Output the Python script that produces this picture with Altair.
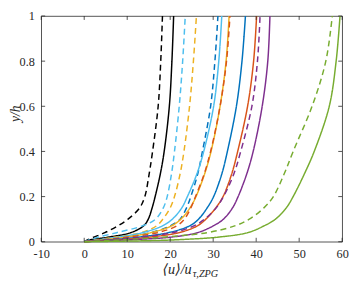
import altair as alt
import pandas as pd

# common y/h levels at which each profile was read
y_levels = [0, 0.005, 0.01, 0.02, 0.04, 0.07, 0.1, 0.15, 0.2, 0.3, 0.4, 0.6, 0.8, 1.0]

# <u>/u_tau,ZPG values of each profile at those levels
x_black_dash  = [0, 0.5, 1.0, 2.2, 4.8, 7.8, 10.2, 12.9, 14.1, 15.1, 15.9, 17.2, 17.8, 18.2]
x_black_solid = [0, 0.6, 1.8, 5.5, 10.8, 13.8, 14.9, 15.8, 16.5, 17.7, 18.6, 19.8, 20.4, 20.8]
x_cyan_dash   = [0, 0.7, 1.5, 3.2, 7.5, 13.5, 16.6, 18.4, 19.3, 20.3, 21.0, 22.1, 22.9, 23.5]
x_orange_dash = [0, 1.5, 3.0, 7.0, 13.2, 16.8, 18.3, 20.0, 21.0, 22.3, 23.2, 24.5, 25.4, 26.1]
x_blue_dash   = [0, 2.0, 4.0, 9.0, 15.5, 20.0, 22.3, 23.8, 24.8, 26.4, 27.5, 29.4, 30.4, 31.1]
x_cyan_solid  = [0, 2.0, 4.0, 7.8, 13.5, 18.2, 20.5, 22.7, 24.0, 26.2, 27.8, 30.1, 31.3, 32.0]
x_orange_solid= [0, 2.5, 5.0, 9.5, 15.5, 20.3, 22.5, 24.6, 26.0, 28.0, 29.5, 31.6, 33.0, 33.7]
x_red_dash    = [0, 2.5, 5.0, 10.0, 17.0, 21.5, 23.3, 24.8, 25.9, 27.9, 29.4, 31.6, 33.1, 33.9]
x_blue_solid  = [0, 3.5, 7.0, 12.5, 19.5, 24.5, 26.6, 28.6, 30.1, 32.0, 33.3, 35.4, 36.7, 37.5]
x_red_solid   = [0, 4.5, 9.0, 15.0, 22.0, 26.3, 28.3, 30.6, 32.3, 34.3, 35.7, 38.0, 39.4, 40.1]
x_purple_dash = [0, 3.5, 7.0, 13.0, 20.5, 25.5, 28.0, 30.7, 32.4, 34.8, 36.4, 39.0, 40.3, 40.9]
x_purple_solid= [0, 6.0, 12.0, 20.0, 26.3, 30.0, 32.4, 34.5, 35.8, 37.8, 39.3, 41.4, 42.7, 43.2]
x_green_dash  = [0, 5.0, 10.0, 18.0, 28.5, 35.0, 38.4, 41.8, 44.0, 46.5, 48.6, 53.0, 56.2, 57.7]
x_green_solid = [0, 16.0, 23.0, 31.0, 38.0, 41.8, 44.5, 47.0, 48.6, 51.2, 53.5, 57.0, 58.6, 59.5]

series_names = ["k--", "k-", "c--", "o--", "b--", "c-", "o-", "r--", "b-", "r-", "p--", "p-", "g--", "g-"]
series_x = [x_black_dash, x_black_solid, x_cyan_dash, x_orange_dash, x_blue_dash, x_cyan_solid,
            x_orange_solid, x_red_dash, x_blue_solid, x_red_solid, x_purple_dash, x_purple_solid,
            x_green_dash, x_green_solid]
series_colors = ["#000000", "#000000", "#4DBEEE", "#EDB120", "#0072BD", "#4DBEEE", "#EDB120",
                 "#D95319", "#0072BD", "#D95319", "#7E2F8E", "#7E2F8E", "#77AC30", "#77AC30"]
series_style = ["dashed", "solid", "dashed", "dashed", "dashed", "solid", "solid",
                "dashed", "solid", "solid", "dashed", "solid", "dashed", "solid"]

x_ticks = [-10, 0, 10, 20, 30, 40, 50, 60]
y_ticks = [0, 0.2, 0.4, 0.6, 0.8, 1]
x_title_main = "⟨u⟩/u"
x_title_sub = "τ,ZPG"
y_title = "y/h"

W, H = 308, 231
FONT = "Times New Roman, Liberation Serif, DejaVu Serif, serif"
AX = "#262626"

rows = []
for name, xv_list, sty in zip(series_names, series_x, series_style):
    for i, (yv, xv) in enumerate(zip(y_levels, xv_list)):
        rows.append({"series": name, "x": xv, "y": yv, "idx": i, "style": sty})
df = pd.DataFrame(rows)

xs = alt.Scale(domain=[-10, 60], nice=False, zero=False)
ys = alt.Scale(domain=[0, 1], nice=False, zero=False)
x_axis = alt.Axis(values=x_ticks, ticks=False, domain=False, grid=False, labelFlush=False,
                  labelFont=FONT, labelFontSize=12.5, labelColor=AX,
                  labelPadding=6, labelExpr="'' + datum.value", title=None)
y_axis = alt.Axis(values=y_ticks, ticks=False, domain=False, grid=False, labelFlush=False,
                  labelFont=FONT, labelFontSize=12.5, labelColor=AX,
                  labelPadding=7, labelExpr="'' + datum.value", title=None)

lines = alt.Chart(df).mark_line(strokeWidth=1.5, interpolate="catmull-rom").encode(
    x=alt.X("x:Q", scale=xs, axis=x_axis),
    y=alt.Y("y:Q", scale=ys, axis=y_axis),
    color=alt.Color("series:N", scale=alt.Scale(domain=series_names, range=series_colors), legend=None),
    strokeDash=alt.StrokeDash("style:N", scale=alt.Scale(domain=["solid", "dashed"], range=[[1, 0], [6, 4]]), legend=None),
    detail="series:N",
    order=alt.Order("idx:Q"),
)

xt = pd.DataFrame({"t": x_ticks})
yt = pd.DataFrame({"t": y_ticks})
tick_bottom = alt.Chart(xt).mark_rule(color=AX, strokeWidth=0.8).encode(
    x=alt.X("t:Q", scale=xs, axis=x_axis), y=alt.value(H), y2=alt.value(H - 4))
tick_top = alt.Chart(xt).mark_rule(color=AX, strokeWidth=0.8).encode(
    x=alt.X("t:Q", scale=xs, axis=x_axis), y=alt.value(0), y2=alt.value(4))
tick_left = alt.Chart(yt).mark_rule(color=AX, strokeWidth=0.8).encode(
    y=alt.Y("t:Q", scale=ys, axis=y_axis), x=alt.value(0), x2=alt.value(4))
tick_right = alt.Chart(yt).mark_rule(color=AX, strokeWidth=0.8).encode(
    y=alt.Y("t:Q", scale=ys, axis=y_axis), x=alt.value(W - 4), x2=alt.value(W))

ytitle = alt.Chart(pd.DataFrame({"s": [y_title]})).mark_text(
    font=FONT, fontSize=14, fontStyle="italic", angle=270, align="center", baseline="middle", color=AX
).encode(x=alt.value(-26), y=alt.value(100), text="s:N")
xtitle1 = alt.Chart(pd.DataFrame({"s": [x_title_main]})).mark_text(
    font=FONT, fontSize=14.5, fontStyle="italic", align="right", baseline="alphabetic", color=AX
).encode(x=alt.value(154), y=alt.value(264), text="s:N")
xtitle2 = alt.Chart(pd.DataFrame({"s": [x_title_sub]})).mark_text(
    font=FONT, fontSize=10.5, fontStyle="italic", align="left", baseline="alphabetic", color=AX
).encode(x=alt.value(155), y=alt.value(267), text="s:N")

chart = alt.layer(lines, tick_bottom, tick_top, tick_left, tick_right, ytitle, xtitle1, xtitle2).properties(
    width=W, height=H,
    autosize=alt.AutoSizeParams(type="none"),
    padding={"left": 34, "top": 5, "right": 7, "bottom": 37},
).configure_view(stroke=AX, strokeWidth=0.8)

chart.save("out.html", embed_options={"renderer": "svg", "actions": False})
